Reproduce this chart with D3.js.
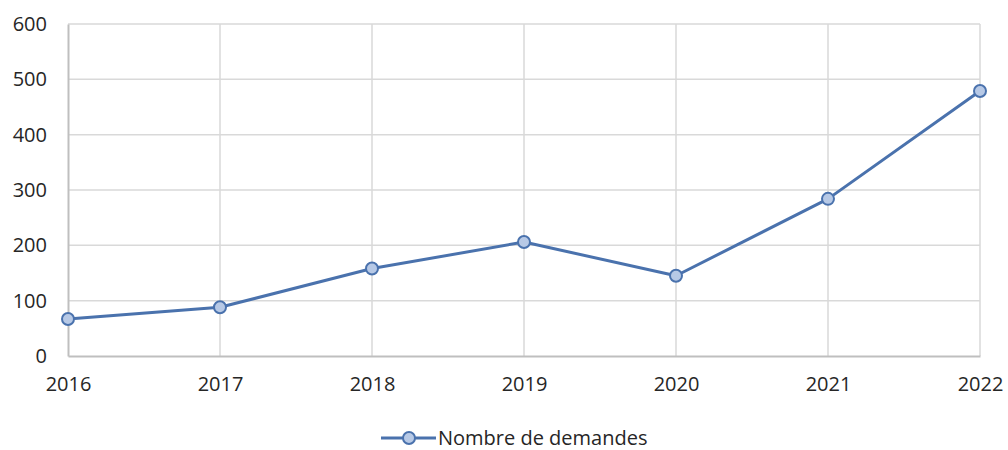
<!DOCTYPE html>
<html>
<head>
<meta charset="utf-8">
<script src="https://cdn.jsdelivr.net/npm/d3@7"></script>
<style>
  html, body { margin: 0; padding: 0; background: #fff; }
  svg { display: block; }
  text { font-family: "Open Sans", Lato, sans-serif; fill: #262626; }
</style>
</head>
<body>
<svg id="chart" width="1008" height="450"></svg>
<script>
// Yearly number of requests
const years = ["2016", "2017", "2018", "2019", "2020", "2021", "2022"];
const requests = [67, 88, 158, 206, 145, 284, 479];
const yTicks = [0, 100, 200, 300, 400, 500, 600];
const seriesName = "Nombre de demandes";

const W = 1008, H = 450;
const margin = { left: 68, right: 28, top: 24, bottom: 94 };
const svg = d3.select("#chart");

const x = d3.scalePoint().domain(years).range([margin.left, W - margin.right]);
const y = d3.scaleLinear().domain([0, 600]).range([H - margin.bottom, margin.top]);

const lineColor = "#4a72ad";
const markerFill = "#b7c9e6";
const gridColor = "#d9d9d9";
const axisColor = "#bfbfbf";
const fontSize = 20;

// horizontal gridlines
svg.append("g")
  .selectAll("line")
  .data(yTicks.filter(d => d > 0))
  .join("line")
  .attr("x1", margin.left).attr("x2", W - margin.right)
  .attr("y1", d => y(d)).attr("y2", d => y(d))
  .attr("stroke", gridColor).attr("stroke-width", 1.5);

// vertical gridlines
svg.append("g")
  .selectAll("line")
  .data(years.slice(1))
  .join("line")
  .attr("x1", d => x(d)).attr("x2", d => x(d))
  .attr("y1", y(600)).attr("y2", y(0))
  .attr("stroke", gridColor).attr("stroke-width", 1.5);

// y axis
const yAxis = svg.append("g")
  .attr("transform", `translate(${margin.left},0)`)
  .call(d3.axisLeft(y).tickValues(yTicks).tickSize(0).tickPadding(21));
yAxis.select(".domain").attr("stroke", axisColor).attr("stroke-width", 2);
yAxis.selectAll("text").attr("font-size", fontSize).style("fill", "#262626");

// x axis
const xAxis = svg.append("g")
  .attr("transform", `translate(0,${y(0)})`)
  .call(d3.axisBottom(x).tickSize(0).tickPadding(21));
xAxis.select(".domain").attr("stroke", axisColor).attr("stroke-width", 2);
xAxis.selectAll("text").attr("font-size", fontSize).style("fill", "#262626");

// series line
const data = years.map((yr, i) => ({ year: yr, value: requests[i] }));
svg.append("path")
  .datum(data)
  .attr("fill", "none")
  .attr("stroke", lineColor)
  .attr("stroke-width", 3)
  .attr("stroke-linejoin", "round")
  .attr("d", d3.line().x(d => x(d.year)).y(d => y(d.value)));

svg.append("g")
  .selectAll("circle")
  .data(data)
  .join("circle")
  .attr("cx", d => x(d.year))
  .attr("cy", d => y(d.value))
  .attr("r", 6)
  .attr("fill", markerFill)
  .attr("stroke", lineColor)
  .attr("stroke-width", 2);

// legend
const lg = svg.append("g").attr("transform", "translate(381,438)");
lg.append("line").attr("x1", 0).attr("x2", 55).attr("y1", 0).attr("y2", 0)
  .attr("stroke", lineColor).attr("stroke-width", 3);
lg.append("circle").attr("cx", 28).attr("cy", 0).attr("r", 6)
  .attr("fill", markerFill).attr("stroke", lineColor).attr("stroke-width", 2);
lg.append("text").attr("x", 57).attr("y", 0).attr("dy", "0.35em")
  .attr("font-size", fontSize).text(seriesName);
</script>
</body>
</html>
